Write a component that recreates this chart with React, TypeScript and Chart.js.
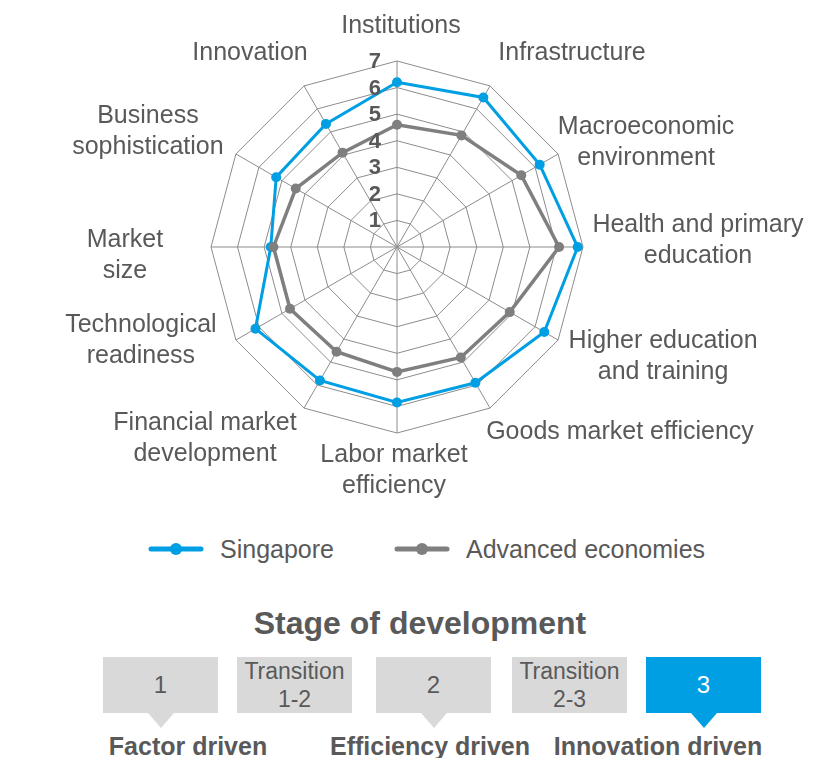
import React, { useEffect, useRef } from "react";
import { Chart, registerables } from "chart.js";

Chart.register(...registerables);

// ---------- data ----------
const CATEGORIES: string[][] = [
  ["Institutions"],
  ["Infrastructure"],
  ["Macroeconomic", "environment"],
  ["Health and primary", "education"],
  ["Higher education", "and training"],
  ["Goods market efficiency"],
  ["Labor market", "efficiency"],
  ["Financial market", "development"],
  ["Technological", "readiness"],
  ["Market", "size"],
  ["Business", "sophistication"],
  ["Innovation"],
];
const SINGAPORE = [6.2, 6.5, 6.2, 6.8, 6.4, 5.9, 5.85, 5.8, 6.15, 4.75, 5.25, 5.35];
const ADVANCED = [4.6, 4.85, 5.4, 6.1, 4.9, 4.8, 4.7, 4.55, 4.65, 4.65, 4.4, 4.1];
const TICKS = [1, 2, 3, 4, 5, 6, 7];
const SERIES_NAMES = ["Singapore", "Advanced economies"];
const STAGES = [["1"], ["Transition", "1-2"], ["2"], ["Transition", "2-3"], ["3"]];
const STAGE_NAMES = ["Factor driven", "Efficiency driven", "Innovation driven"];
const TITLE = "Stage of development";

// ---------- styles / layout ----------
const FONT = '"Liberation Sans", Arial, Helvetica, sans-serif';
const TEXT = "#595959";
const BLUE = "#009FE3";
const GRAY = "#7F7F7F";
const GRID = "#8C8C8C";
const BOX = "#D9D9D9";
// label centre offsets relative to the outer vertex of each spoke
const LABEL_OFFSETS: [number, number][] = [
  [4, -35], [82, -33], [88, -11], [115, -6], [105, 17], [130, 24],
  [-3, 38], [-99, 31], [-95, 1], [-86, 9], [-88, -22], [-54, -33],
];
const BOX_LEFTS = [103, 237, 376, 512, 646];
const STAGE_ACTIVE = 4;
const STAGE_POINTER = [true, false, true, false, true];
const NAME_CENTERS = [188, 430, 658];

const overlayPlugin = {
  id: "overlay",
  afterDatasetsDraw(chart: any) {
    const scale = chart.scales.r;
    const ctx = chart.ctx as CanvasRenderingContext2D;
    ctx.save();
    ctx.fillStyle = TEXT;
    ctx.font = `bold 22px ${FONT}`;
    ctx.textAlign = "right";
    ctx.textBaseline = "middle";
    TICKS.forEach((v) => {
      const d = scale.getDistanceFromCenterForValue(v);
      ctx.fillText(String(v), scale.xCenter - 16, scale.yCenter - d + 1);
    });
    ctx.font = `25px ${FONT}`;
    ctx.textAlign = "center";
    const lh = 31;
    CATEGORIES.forEach((lines, i) => {
      const p = scale.getPointPosition(i, scale.drawingArea);
      const [dx, dy] = LABEL_OFFSETS[i];
      const cx = p.x + dx;
      const cy = p.y + dy;
      lines.forEach((ln, j) => {
        ctx.fillText(ln, cx, cy + (j - (lines.length - 1) / 2) * lh);
      });
    });
    ctx.restore();
  },
};

function RadarChart() {
  const ref = useRef<HTMLCanvasElement | null>(null);
  useEffect(() => {
    if (!ref.current) return;
    const chart = new Chart(ref.current, {
      type: "radar",
      data: {
        labels: CATEGORIES.map((l) => l.join(" ")),
        datasets: [
          {
            label: SERIES_NAMES[0],
            data: SINGAPORE,
            borderColor: BLUE,
            backgroundColor: BLUE,
            pointBackgroundColor: BLUE,
            pointBorderColor: BLUE,
            borderWidth: 3,
            pointRadius: 5,
            pointBorderWidth: 0,
            fill: false,
            order: 1,
          },
          {
            label: SERIES_NAMES[1],
            data: ADVANCED,
            borderColor: GRAY,
            backgroundColor: GRAY,
            pointBackgroundColor: GRAY,
            pointBorderColor: GRAY,
            borderWidth: 3.5,
            pointRadius: 5,
            pointBorderWidth: 0,
            fill: false,
            order: 0,
          },
        ],
      },
      options: {
        responsive: false,
        animation: false,
        layout: { padding: { left: 211, right: 253, top: 61, bottom: 77 } },
        plugins: { legend: { display: false }, tooltip: { enabled: false } },
        scales: {
          r: {
            min: 0,
            max: 7,
            ticks: { stepSize: 1, display: false },
            grid: { color: GRID, lineWidth: 1 },
            angleLines: { color: GRID, lineWidth: 1 },
            pointLabels: { display: false },
          },
        },
      } as any,
      plugins: [overlayPlugin],
    });
    return () => chart.destroy();
  }, []);
  return (
    <canvas
      ref={ref}
      width={836}
      height={510}
      style={{ position: "absolute", left: 0, top: 0, width: 836, height: 510 }}
    />
  );
}

function LegendItem({ left, color, text }: { left: number; color: string; text: string }) {
  return (
    <div
      style={{
        position: "absolute",
        left,
        top: 534,
        height: 30,
        display: "flex",
        alignItems: "center",
        whiteSpace: "nowrap",
      }}
    >
      <svg width={56} height={14} style={{ display: "block" }}>
        <line x1={3} y1={7} x2={53} y2={7} stroke={color} strokeWidth={5} strokeLinecap="round" />
        <circle cx={28} cy={7} r={6} fill={color} />
      </svg>
      <span style={{ marginLeft: 16, fontSize: 25, lineHeight: "30px" }}>{text}</span>
    </div>
  );
}

export default function App() {
  return (
    <div
      style={{
        position: "absolute",
        left: 0,
        top: 0,
        width: 836,
        height: 758,
        background: "#fff",
        fontFamily: FONT,
        color: TEXT,
        overflow: "hidden",
      }}
    >
      <RadarChart />
      <LegendItem left={148} color={BLUE} text={SERIES_NAMES[0]} />
      <LegendItem left={394} color={GRAY} text={SERIES_NAMES[1]} />
      <div
        style={{
          position: "absolute",
          left: 0,
          width: 840,
          top: 605,
          textAlign: "center",
          fontWeight: "bold",
          fontSize: 32,
          lineHeight: "36px",
        }}
      >
        {TITLE}
      </div>
      {STAGES.map((lines, i) => {
        const active = i === STAGE_ACTIVE;
        const bg = active ? BLUE : BOX;
        return (
          <div
            key={i}
            style={{
              position: "absolute",
              left: BOX_LEFTS[i],
              top: 657,
              width: 115,
              height: 56,
              background: bg,
              color: active ? "#fff" : TEXT,
              display: "flex",
              flexDirection: "column",
              alignItems: "center",
              justifyContent: "center",
              fontSize: lines.length > 1 ? 23 : 24,
              lineHeight: "28px",
            }}
          >
            {lines.map((l, j) => (
              <div key={j}>{l}</div>
            ))}
            {STAGE_POINTER[i] && (
              <div
                style={{
                  position: "absolute",
                  left: 57.5 - 13,
                  top: 56,
                  width: 0,
                  height: 0,
                  borderLeft: "13px solid transparent",
                  borderRight: "13px solid transparent",
                  borderTop: `15px solid ${bg}`,
                }}
              />
            )}
          </div>
        );
      })}
      {STAGE_NAMES.map((n, i) => (
        <div
          key={i}
          style={{
            position: "absolute",
            left: NAME_CENTERS[i],
            top: 731,
            transform: "translateX(-50%)",
            whiteSpace: "nowrap",
            fontWeight: "bold",
            fontSize: 25,
            lineHeight: "30px",
          }}
        >
          {n}
        </div>
      ))}
    </div>
  );
}
